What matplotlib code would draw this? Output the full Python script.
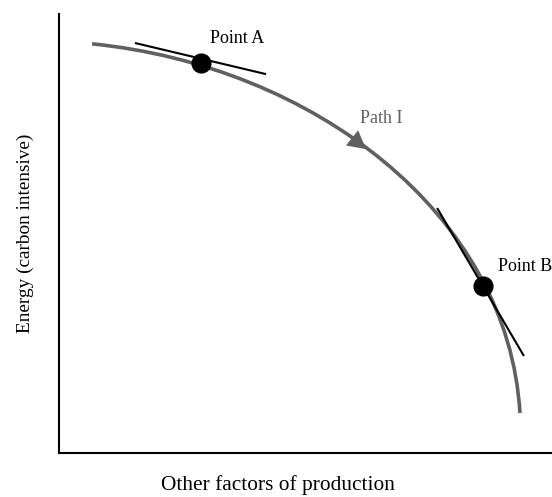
import matplotlib

matplotlib.use("Agg")

import matplotlib.pyplot as plt
from matplotlib.patches import PathPatch
from matplotlib.path import Path

# frontier as one cubic Bezier (abstract units, 0-10 on both axes)
curve_ctrl_x = [0.67, 5.13, 9.11, 9.35]
curve_ctrl_y = [9.32, 8.82, 5.47, 0.91]

point_names = ["Point A", "Point B"]
point_x = [2.88, 8.60]
point_y = [8.88, 3.80]

# tangent segments at each point: (x0, x1), (y0, y1)
tangent_x = [(1.54, 4.20), (7.67, 9.43)]
tangent_y = [(9.34, 8.63), (5.58, 2.21)]

arrow_tail = (5.50, 7.58)
arrow_tip = (6.23, 6.92)

CURVE_GREY = "#606060"

plt.rcParams["font.family"] = ["Liberation Serif", "DejaVu Serif"]

fig = plt.figure(figsize=(5.52, 4.97), dpi=100)
ax = fig.add_axes([59 / 552, 44 / 497, 493 / 552, 439 / 497])
ax.set_xlim(0, 10)
ax.set_ylim(0, 10)

frontier = Path(
    list(zip(curve_ctrl_x, curve_ctrl_y)),
    [Path.MOVETO, Path.CURVE4, Path.CURVE4, Path.CURVE4],
)
ax.add_patch(PathPatch(frontier, facecolor="none", edgecolor=CURVE_GREY, lw=2.6, capstyle="butt"))

for tx, ty in zip(tangent_x, tangent_y):
    ax.plot(tx, ty, color="black", lw=1.5, solid_capstyle="butt")
ax.plot(point_x, point_y, "o", color="black", markersize=13.5, linestyle="none")

ax.annotate(
    "",
    xy=arrow_tip,
    xytext=arrow_tail,
    arrowprops=dict(
        arrowstyle="-|>,head_length=1.3,head_width=0.7",
        mutation_scale=10,
        color=CURVE_GREY,
        lw=0,
        shrinkA=0,
        shrinkB=0,
    ),
)

ax.text(3.06, 9.45, point_names[0], fontsize=13, ha="left", va="center")
ax.text(8.90, 4.24, point_names[1], fontsize=13, ha="left", va="center", clip_on=False)
ax.text(6.11, 7.63, "Path I", fontsize=13, ha="left", va="center", color=CURVE_GREY)

ax.set_xlabel("Other factors of production", fontsize=15.4)
ax.xaxis.set_label_coords(0.444, -0.05)
ax.set_ylabel("Energy (carbon intensive)", fontsize=13.9, labelpad=18)

ax.set_xticks([])
ax.set_yticks([])
for side in ("top", "right"):
    ax.spines[side].set_visible(False)
for side in ("left", "bottom"):
    ax.spines[side].set_linewidth(1.5)

fig.savefig("out.png", dpi=100)
